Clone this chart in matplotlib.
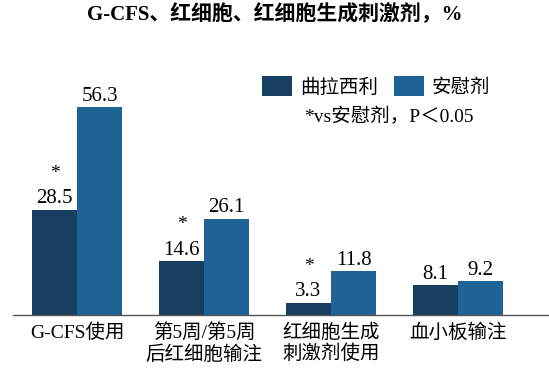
import numpy as np
import matplotlib.pyplot as plt

plt.rcParams['font.family'] = ['Liberation Serif', 'Noto Sans CJK SC']

# Data
categories = ['G-CFS使用', '第5周/第5周\n后红细胞输注', '红细胞生成\n刺激剂使用', '血小板输注']
trilaciclib = [28.5, 14.6, 3.3, 8.1]
placebo = [56.3, 26.1, 11.8, 9.2]
significant = [True, True, True, False]

dark = '#163f62'
light = '#1f6396'

fig = plt.figure(figsize=(5.49, 3.71), dpi=100)
ax = fig.add_axes([0.024, 0.151, 0.976, 0.741])

x = np.arange(len(categories))
w = 0.355
b1 = ax.bar(x - w / 2, trilaciclib, w, color=dark, label='曲拉西利')
b2 = ax.bar(x + w / 2, placebo, w, color=light, label='安慰剂')

for rect, v, sig in zip(b1, trilaciclib, significant):
    cx = rect.get_x() + rect.get_width() / 2
    ax.annotate(f'{v}', (cx, v), xytext=(0, 1), textcoords='offset points',
                ha='center', va='bottom', fontsize=15)
    if sig:
        ax.annotate('*', (cx, v), xytext=(0, 20), textcoords='offset points',
                    ha='center', va='bottom', fontsize=14)
for rect, v in zip(b2, placebo):
    cx = rect.get_x() + rect.get_width() / 2
    ax.annotate(f'{v}', (cx, v), xytext=(0, 1), textcoords='offset points',
                ha='center', va='bottom', fontsize=15)

ax.set_xlim(-0.504, 3.717)
ax.set_ylim(0, 74.5)
ax.set_xticks(x)
ax.set_xticklabels(categories, fontsize=14, linespacing=1.2)
ax.tick_params(axis='x', length=0, pad=6)
ax.set_yticks([])
for s in ['top', 'right', 'left']:
    ax.spines[s].set_visible(False)
ax.spines['bottom'].set_color('#555555')
ax.spines['bottom'].set_linewidth(1.0)

ax.legend(loc='upper left', bbox_to_anchor=(0.45, 0.897), ncol=2, frameon=False,
          fontsize=14, handlelength=1.55, handleheight=1.2, handletextpad=0.4,
          columnspacing=0.8, borderaxespad=0)
ax.text(0.542, 0.72, '*vs安慰剂，P＜0.05', transform=ax.transAxes,
        fontsize=14, ha='left', va='center')

fig.suptitle('G-CFS、红细胞、红细胞生成刺激剂，%', fontsize=15, fontweight='bold',
             y=0.96, va='center')

plt.savefig('out.png', dpi=100)
